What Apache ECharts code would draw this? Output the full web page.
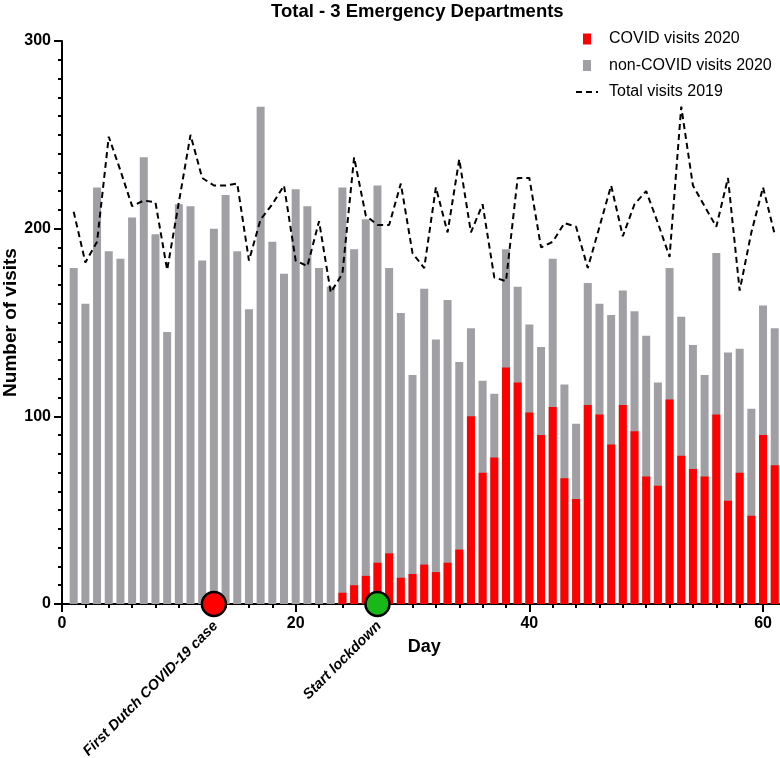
<!DOCTYPE html>
<html>
<head>
<meta charset="utf-8">
<script src="https://cdn.jsdelivr.net/npm/echarts@6/dist/echarts.min.js"></script>
<style>
html,body{margin:0;padding:0;background:#fff;}
#chart{width:780px;height:758px;}
</style>
</head>
<body>
<div id="chart"></div>
<script>
var days = [1,2,3,4,5,6,7,8,9,10,11,12,13,14,15,16,17,18,19,20,21,22,23,24,25,26,27,28,29,30,31,32,33,34,35,36,37,38,39,40,41,42,43,44,45,46,47,48,49,50,51,52,53,54,55,56,57,58,59,60,61];
var total2020 = [179,160,222,188,184,206,238,197,145,213,212,183,200,218,188,157,265,193,176,221,212,179,169,222,189,205,223,179,155,122,168,141,162,129,147,119,112,189,169,149,137,184,117,96,171,160,154,167,156,143,118,179,153,138,122,187,134,136,104,159,147];
var covid2020 = [0,0,0,0,0,0,0,0,0,0,0,0,0,0,0,0,0,0,0,0,0,0,0,6,10,15,22,27,14,16,21,17,22,29,100,70,78,126,118,102,90,105,67,56,106,101,85,106,92,68,63,109,79,72,68,101,55,70,47,90,74];
var total2019 = [209,182,193,249,231,212,215,214,178,214,250,227,223,223,224,183,205,213,223,183,180,204,166,176,238,207,202,202,224,187,179,222,198,237,198,213,174,172,227,227,190,193,203,201,179,201,223,196,213,220,203,185,265,223,212,201,227,167,198,222,197];
var eventDays = [13, 27];
var eventNames = ['First Dutch COVID-19 case', 'Start lockdown'];
var eventColors = ['#ff0000', '#17b817'];
var xTicks = [0, 20, 40, 60];
var yTicks = [0, 100, 200, 300];
var seriesNames = ['COVID visits 2020', 'non-COVID visits 2020', 'Total visits 2019'];

var FONT = "Arial, 'Liberation Sans', sans-serif";
// grey bar = total 2020 visits (non-COVID part on top), red bar = COVID part drawn over it from 0
var covidData = days.map(function (d, i) { return [d, covid2020[i]]; });
var totalData = days.map(function (d, i) { return [d, total2020[i]]; });
var line2019 = days.map(function (d, i) { return [d, total2019[i]]; });
var eventData = eventDays.map(function (d, i) {
  return { value: [d, 0], name: eventNames[i], itemStyle: { color: eventColors[i] } };
});

var chart = echarts.init(document.getElementById('chart'), null, { renderer: 'canvas' });
chart.setOption({
  animation: false,
  backgroundColor: '#ffffff',
  textStyle: { fontFamily: FONT },
  title: {
    text: 'Total - 3 Emergency Departments',
    left: 271, top: 2, padding: 0,
    textStyle: { fontSize: 18.5, fontWeight: 'bold', color: '#000', fontFamily: FONT }
  },
  legend: {
    orient: 'vertical',
    left: 575, top: 31, padding: 0,
    itemWidth: 22, itemHeight: 11, itemGap: 10.5,
    textStyle: { fontSize: 16, color: '#000', fontFamily: FONT, lineHeight: 16, padding: [0, 0, 0, 6] },
    data: [
      { name: seriesNames[0], icon: 'path://M0 0H8V11H0Z' },
      { name: seriesNames[1], icon: 'path://M0 0H8V11H0Z' },
      { name: seriesNames[2], itemStyle: { opacity: 0 } }
    ]
  },
  grid: { left: 62, right: -6.4, top: 41, bottom: 154, outerBoundsMode: 'none', containLabel: false },
  xAxis: {
    type: 'value', min: 0, max: 62, interval: 20,
    name: 'Day', nameLocation: 'middle', nameGap: 34, nameMoveOverlap: false,
    nameTextStyle: { fontSize: 18, fontWeight: 'bold', color: '#000', fontFamily: FONT },
    axisLine: { show: true, onZero: false, lineStyle: { color: '#000', width: 2 } },
    axisTick: { show: true, length: 8, lineStyle: { color: '#000', width: 2 } },
    minorTick: { show: true, splitNumber: 10, length: 4, lineStyle: { color: '#000', width: 2 } },
    axisLabel: { fontSize: 16, fontWeight: 'bold', color: '#000', margin: 12, showMaxLabel: false,
      formatter: function (v) { return xTicks.indexOf(v) >= 0 ? String(v) : ''; } },
    splitLine: { show: false }
  },
  yAxis: {
    type: 'value', min: 0, max: 300, interval: 100,
    name: 'Number of visits', nameLocation: 'middle', nameGap: 42, nameMoveOverlap: false,
    nameTextStyle: { fontSize: 19, fontWeight: 'bold', color: '#000', fontFamily: FONT },
    axisLine: { show: true, lineStyle: { color: '#000', width: 2 } },
    axisTick: { show: true, length: 8, lineStyle: { color: '#000', width: 2 } },
    minorTick: { show: true, splitNumber: 10, length: 4, lineStyle: { color: '#000', width: 2 } },
    axisLabel: { fontSize: 16, fontWeight: 'bold', color: '#000', margin: 11,
      formatter: function (v) { return yTicks.indexOf(v) >= 0 ? String(v) : ''; } },
    splitLine: { show: false }
  },
  series: [
    {
      name: seriesNames[1], type: 'bar', barWidth: 8, barGap: '-100%', z: 2,
      itemStyle: { color: '#a0a0a4' }, data: totalData
    },
    {
      name: seriesNames[0], type: 'bar', barWidth: 8, barGap: '-100%', z: 3,
      itemStyle: { color: '#ff0000' }, data: covidData
    },
    {
      name: seriesNames[2], type: 'line', symbol: 'none', showSymbol: false, z: 4,
      lineStyle: { color: '#000', width: 2, type: [6, 4] },
      itemStyle: { color: '#000' },
      data: line2019
    },
    {
      type: 'scatter', z: 10, clip: false, symbolSize: 24,
      itemStyle: { borderColor: '#000', borderWidth: 2.5, opacity: 1 },
      label: {
        show: true, formatter: '{b}', position: [15, 33], align: 'right', verticalAlign: 'middle',
        rotate: 45, fontSize: 14.5, fontWeight: 'bold', fontStyle: 'italic', color: '#000', fontFamily: FONT
      },
      data: eventData
    }
  ]
});
</script>
</body>
</html>
